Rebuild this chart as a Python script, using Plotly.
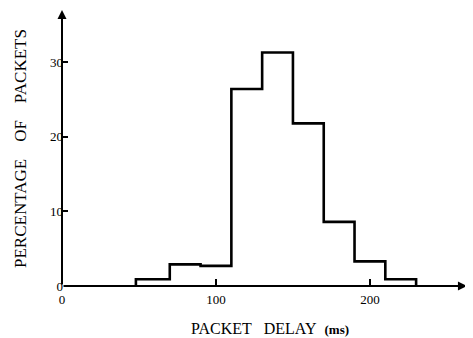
import plotly.graph_objects as go

# Data (packet delay histogram, 20 ms bins)
bin_edges = [48, 70, 90, 110, 130, 150, 170, 190, 210, 230]
percent_packets = [0.9, 2.9, 2.7, 26.4, 31.3, 21.8, 8.6, 3.3, 0.9]
x_ticks = [0, 100, 200]
y_ticks = [0, 10, 20, 30]

x_max = 265
y_max = 37

xs = [bin_edges[0]] + bin_edges
ys = [0] + percent_packets + [0]

SERIF = "Liberation Serif, Times New Roman, serif"
NB = "\u00a0"

fig = go.Figure()
fig.add_trace(go.Scatter(
    x=xs, y=ys, mode="lines", line=dict(color="black", width=2.6, shape="hv"),
    cliponaxis=False, showlegend=False, hoverinfo="skip"))

fig.update_layout(
    width=465, height=330,
    margin=dict(l=54, r=3, t=2, b=52),
    paper_bgcolor="white", plot_bgcolor="white",
    font=dict(family=SERIF, color="black", size=13),
    xaxis=dict(range=[0, x_max], tickvals=x_ticks, ticks="inside", ticklen=7,
               tickwidth=1.5, tickcolor="black", showgrid=False, zeroline=False,
               showline=False, tickfont=dict(size=13, family=SERIF),
               ticklabelstandoff=4),
    yaxis=dict(range=[0, y_max], tickvals=y_ticks, ticks="inside", ticklen=6,
               tickwidth=1.5, tickcolor="black", showgrid=False, zeroline=False,
               showline=False, tickfont=dict(size=13, family=SERIF),
               ticklabelstandoff=-2),
)

# axis lines with arrowheads
fig.add_annotation(x=263, y=0, ax=0, ay=0, xref="x", yref="y", axref="x", ayref="y",
                   showarrow=True, arrowhead=2, arrowsize=0.9, arrowwidth=2,
                   arrowcolor="black", text="")
fig.add_annotation(x=0, y=y_max, ax=0, ay=0, xref="x", yref="y", axref="x", ayref="y",
                   showarrow=True, arrowhead=2, arrowsize=0.9, arrowwidth=2,
                   arrowcolor="black", text="")

# axis titles
fig.add_annotation(x=(270 - 62) / 408, y=-42 / 276, xref="paper", yref="paper",
                   text=f"PACKET{NB*3}DELAY{NB*2}<span style='font-size:13px'><b>(ms)</b></span>",
                   showarrow=False, font=dict(size=16, family=SERIF),
                   xanchor="center", yanchor="middle")
fig.add_annotation(x=(20 - 62) / 408, y=(286 - 149) / 276, xref="paper", yref="paper",
                   text=f"PERCENTAGE{NB*4}OF{NB*4}PACKETS", textangle=-90,
                   showarrow=False, font=dict(size=17, family=SERIF),
                   xanchor="center", yanchor="middle")

fig.write_html("out.html")
